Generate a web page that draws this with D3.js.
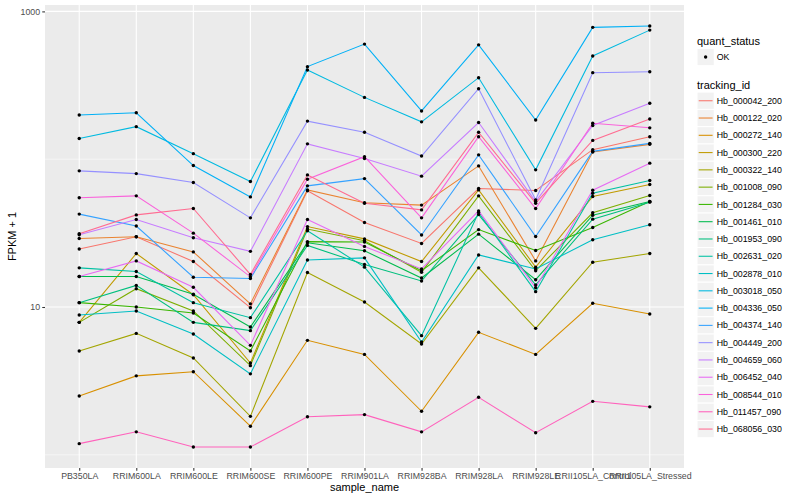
<!DOCTYPE html>
<html>
<head>
<meta charset="utf-8">
<script src="https://cdn.jsdelivr.net/npm/d3@7"></script>
<style>
  body { margin: 0; background: #fff; }
  text { font-family: "Liberation Sans", Arial, sans-serif; }
</style>
</head>
<body>
<div id="chart"></div>
<script>
const samples = ['PB350LA', 'RRIM600LA', 'RRIM600LE', 'RRIM600SE', 'RRIM600PE', 'RRIM901LA',
  'RRIM928BA', 'RRIM928LA', 'RRIM928LE', 'RRII105LA_Control', 'RRII105LA_Stressed'];

const trackingIds = ['Hb_000042_200', 'Hb_000122_020', 'Hb_000272_140', 'Hb_000300_220', 'Hb_000322_140',
  'Hb_001008_090', 'Hb_001284_030', 'Hb_001461_010', 'Hb_001953_090', 'Hb_002631_020',
  'Hb_002878_010', 'Hb_003018_050', 'Hb_004336_050', 'Hb_004374_140', 'Hb_004449_200',
  'Hb_004659_060', 'Hb_006452_040', 'Hb_008544_010', 'Hb_011457_090', 'Hb_068056_030'];

const hues = ['#F8766D', '#EA8331', '#D89000', '#C09B00', '#A3A500', '#7CAE00', '#39B600', '#00BB4E',
  '#00BF7D', '#00C1A3', '#00BFC4', '#00BAE0', '#00B0F6', '#35A2FF', '#9590FF', '#C77CFF',
  '#E76BF3', '#FA62DB', '#FF62BC', '#FF6C91'];

// FPKM + 1, one array per tracking_id, in sample order
const hb000042_200 = [24.7, 29.9, 20.3, 9.89, 61.1, 37.3, 26.9, 63.3, 61.4, 116, 142];
const hb000122_020 = [29.1, 29.9, 23.6, 10.5, 62.0, 50.7, 48.9, 90.1, 20.5, 112, 126];
const hb000272_140 = [2.50, 3.42, 3.65, 1.56, 5.95, 4.78, 1.97, 6.74, 4.78, 10.6, 8.97];
const hb000300_220 = [7.87, 23.0, 12.1, 4.18, 35.0, 28.9, 20.3, 62.0, 18.6, 55.9, 67.4];
const hb000322_140 = [5.04, 6.63, 4.52, 1.82, 17.1, 10.8, 5.62, 18.4, 7.17, 20.1, 23.0];
const hb001008_090 = [7.87, 13.3, 9.40, 4.01, 33.7, 28.1, 17.2, 56.5, 17.6, 43.4, 56.8];
const hb001284_030 = [10.7, 10.0, 9.11, 5.04, 27.7, 27.5, 17.6, 33.4, 24.1, 34.5, 51.7];
const hb001461_010 = [16.1, 16.1, 12.2, 7.32, 27.2, 24.0, 15.7, 31.1, 15.3, 41.8, 51.7];
const hb001953_090 = [10.7, 14.0, 7.87, 6.92, 26.1, 19.4, 15.0, 42.2, 14.1, 39.3, 51.2];
const hb002631_020 = [18.4, 17.4, 10.7, 8.47, 32.8, 18.6, 6.40, 43.6, 12.7, 58.9, 71.7];
const hb002878_010 = [8.83, 9.40, 6.57, 3.53, 20.8, 21.5, 5.80, 22.5, 18.1, 28.5, 36.0];
const hb003018_050 = [138, 166, 109, 70.6, 401, 262, 179, 356, 84.7, 499, 747];
const hb004336_050 = [199, 206, 90.6, 55.6, 423, 601, 212, 594, 184, 780, 796];
const hb004374_140 = [42.5, 35.3, 15.9, 15.6, 66.0, 73.9, 30.7, 107, 30.0, 113, 128];
const hb004449_200 = [83.4, 79.9, 69.5, 40.1, 181, 152, 105, 300, 53.1, 385, 391];
const hb004659_060 = [30.8, 39.1, 29.4, 23.8, 127, 101, 76.8, 177, 51.7, 169, 239];
const hb006452_040 = [16.1, 20.5, 13.6, 5.50, 39.1, 25.7, 18.1, 44.7, 13.5, 61.7, 94.0];
const hb008544_010 = [54.8, 56.5, 31.6, 16.0, 73.2, 104, 40.1, 142, 46.4, 175, 163];
const hb011457_090 = [1.19, 1.43, 1.13, 1.13, 1.81, 1.87, 1.43, 2.45, 1.41, 2.30, 2.11];
const hb068056_030 = [31.3, 42.0, 46.4, 16.6, 78.3, 50.4, 45.4, 152, 50.4, 134, 187];

const seriesValues = [hb000042_200, hb000122_020, hb000272_140, hb000300_220, hb000322_140,
  hb001008_090, hb001284_030, hb001461_010, hb001953_090, hb002631_020,
  hb002878_010, hb003018_050, hb004336_050, hb004374_140, hb004449_200,
  hb004659_060, hb006452_040, hb008544_010, hb011457_090, hb068056_030];

const yBreaks = [10, 1000];
const yMinor = [1, 100];

const W = 800, H = 500;
const P = { left: 45, right: 684, top: 5, bottom: 468 };

const svg = d3.select('#chart').append('svg')
  .attr('width', W).attr('height', H)
  .attr('viewBox', `0 0 ${W} ${H}`);

const series = trackingIds.map((id, i) => ({
  id, color: hues[i],
  pts: samples.map((s, j) => ({ s, v: seriesValues[i][j] }))
}));

const x = d3.scalePoint().domain(samples).range([P.left, P.right]).padding(0.6);

// ggplot-style 5% expansion in log space
const all = seriesValues.flat();
const lo = Math.log10(d3.min(all)), hi = Math.log10(d3.max(all));
const ex = (hi - lo) * 0.05;
const y = d3.scaleLog().domain([10 ** (lo - ex), 10 ** (hi + ex)]).range([P.bottom, P.top]);

svg.append('rect')
  .attr('x', P.left).attr('y', P.top)
  .attr('width', P.right - P.left).attr('height', P.bottom - P.top)
  .attr('fill', '#EBEBEB');

const grid = svg.append('g');
yMinor.forEach(v => {
  grid.append('line').attr('x1', P.left).attr('x2', P.right)
    .attr('y1', y(v)).attr('y2', y(v))
    .attr('stroke', '#fff').attr('stroke-width', 0.53);
});
yBreaks.forEach(v => {
  grid.append('line').attr('x1', P.left).attr('x2', P.right)
    .attr('y1', y(v)).attr('y2', y(v))
    .attr('stroke', '#fff').attr('stroke-width', 1.07);
});
samples.forEach(s => {
  grid.append('line').attr('x1', x(s)).attr('x2', x(s))
    .attr('y1', P.top).attr('y2', P.bottom)
    .attr('stroke', '#fff').attr('stroke-width', 1.07);
});

const line = d3.line().x(d => x(d.s)).y(d => y(d.v));

svg.append('g').selectAll('path').data(series).join('path')
  .attr('d', d => line(d.pts))
  .attr('fill', 'none')
  .attr('stroke', d => d.color)
  .attr('stroke-width', 1.07);

svg.append('g').selectAll('circle').data(series.flatMap(d => d.pts)).join('circle')
  .attr('cx', d => x(d.s)).attr('cy', d => y(d.v))
  .attr('r', 1.7).attr('fill', '#000');

// axes
const yAxis = svg.append('g').attr('transform', `translate(${P.left},0)`)
  .call(d3.axisLeft(y).tickValues(yBreaks).tickFormat(d3.format('d')).tickSize(2.75).tickPadding(2.2));
const xAxis = svg.append('g').attr('transform', `translate(0,${P.bottom})`)
  .call(d3.axisBottom(x).tickSize(2.75).tickPadding(2.2));
[yAxis, xAxis].forEach(a => {
  a.select('.domain').remove();
  a.selectAll('.tick line').attr('stroke', '#333333').attr('stroke-width', 1.07);
  a.selectAll('.tick text').attr('fill', '#4D4D4D')
    .style('font-size', '8.8px').style('font-family', '"Liberation Sans", Arial, sans-serif');
});

svg.append('text')
  .attr('x', (P.left + P.right) / 2).attr('y', 491)
  .attr('text-anchor', 'middle').style('font-size', '11px')
  .text('sample_name');

svg.append('text')
  .attr('transform', `translate(16,${(P.top + P.bottom) / 2}) rotate(-90)`)
  .attr('text-anchor', 'middle').style('font-size', '11px')
  .text('FPKM + 1');

// legends
const KS = 17.28, LX = 697;
const lg = svg.append('g');

lg.append('text').attr('x', LX).attr('y', 44.5).style('font-size', '11px').text('quant_status');
lg.append('rect').attr('x', LX).attr('y', 48.4).attr('width', KS).attr('height', KS)
  .attr('fill', '#F2F2F2').attr('stroke', '#fff');
lg.append('circle').attr('cx', LX + KS / 2).attr('cy', 48.4 + KS / 2).attr('r', 1.7).attr('fill', '#000');
lg.append('text').attr('x', LX + KS + 2.5).attr('y', 48.4 + KS / 2 + 3.1)
  .style('font-size', '8.8px').text('OK');

lg.append('text').attr('x', LX).attr('y', 89).style('font-size', '11px').text('tracking_id');
const items = lg.selectAll('g.item').data(series).join('g')
  .attr('class', 'item')
  .attr('transform', (d, i) => `translate(${LX},${92.1 + i * KS})`);
items.append('rect').attr('width', KS).attr('height', KS)
  .attr('fill', '#F2F2F2').attr('stroke', '#fff');
items.append('line').attr('x1', 1.7).attr('x2', KS - 1.7)
  .attr('y1', KS / 2).attr('y2', KS / 2)
  .attr('stroke', d => d.color).attr('stroke-width', 1.07);
items.append('text').attr('x', KS + 2.5).attr('y', KS / 2 + 3.1)
  .style('font-size', '8.8px').attr('fill', '#000')
  .text(d => d.id);
</script>
</body>
</html>
